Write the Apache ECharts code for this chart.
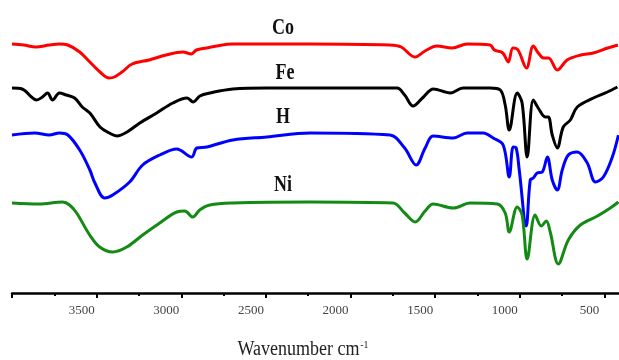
<!DOCTYPE html>
<html>
<head>
<meta charset="utf-8">
<script src="https://cdn.jsdelivr.net/npm/echarts@6/dist/echarts.min.js"></script>
<style>
  html, body { margin: 0; padding: 0; background: #fff; }
  #chart { width: 619px; height: 360px; }
</style>
</head>
<body>
<div id="chart"></div>
<script>
// FTIR spectra, [wavenumber cm-1, transmittance (a.u., offset per sample)]
const co = [
  [4000, 124.5], [3930, 124], [3860, 123], [3780, 124], [3720, 124.5], [3670, 124],
  [3600, 120.5], [3540, 115.5], [3480, 110.5], [3425, 107.5], [3395, 108], [3350, 110.5],
  [3290, 114.5], [3190, 116.5], [3090, 119], [2990, 120.5], [2940, 119.5], [2910, 121.5],
  [2850, 122.5], [2790, 123.5], [2700, 124.5], [2240, 124.5], [1770, 124], [1700, 123],
  [1620, 118], [1560, 121], [1490, 123.5], [1400, 122.5], [1310, 124.5], [1175, 124],
  [1150, 121.5], [1100, 120], [1068, 115.5], [1040, 122.5], [1010, 121.5], [960, 112.5],
  [920, 123.5], [890, 120], [860, 117.5], [830, 117.5], [778, 111.5], [720, 116.5],
  [640, 119], [565, 120], [480, 122.5], [420, 124]
]
const fe = [
  [4000, 102.5], [3940, 102], [3885, 98], [3855, 96.5], [3820, 98], [3790, 100],
  [3760, 96.5], [3720, 100], [3680, 99], [3630, 97.5], [3585, 93], [3540, 90],
  [3480, 83], [3425, 80], [3380, 78.5], [3320, 80.5], [3245, 85], [3145, 90],
  [3050, 95], [2965, 97.5], [2930, 95.5], [2890, 98.5], [2830, 100], [2695, 102],
  [2495, 102.5], [1725, 102.5], [1680, 99], [1630, 93.5], [1575, 97.5], [1510, 102],
  [1410, 100], [1335, 102.5], [1175, 102.5], [1115, 101.5], [1086, 94], [1062, 81.5],
  [1015, 100], [986, 95], [956, 68], [920, 96.5], [891, 92.5], [849, 88], [831, 88],
  [808, 79], [778, 72.5], [743, 83], [701, 86.5], [660, 93], [565, 97.5], [482, 100.5],
  [423, 103]
]
const h = [
  [4000, 79], [3865, 80], [3780, 79], [3720, 80], [3670, 79], [3600, 71.5],
  [3540, 61.5], [3510, 55], [3453, 47.5], [3405, 49], [3305, 55.5], [3228, 64],
  [3127, 69], [3027, 72], [2938, 68], [2908, 72.5], [2849, 73], [2695, 76.5],
  [2494, 78], [2240, 80], [1766, 79], [1680, 72.5], [1612, 64], [1559, 72.5],
  [1512, 78.5], [1393, 77.5], [1311, 80], [1216, 80], [1157, 77.5], [1098, 74],
  [1062, 58], [1039, 73], [1021, 72.5], [1003, 61.5], [962, 33.5], [938, 56.5],
  [920, 57.5], [897, 60], [867, 60.5], [837, 68], [808, 56.5], [778, 51.5],
  [749, 61.5], [713, 69], [660, 70.5], [601, 65], [553, 55.5], [506, 58],
  [453, 68], [417, 79]
]
const ni = [
  [4000, 45], [3840, 44.5], [3700, 45.5], [3660, 44], [3618, 40], [3541, 29],
  [3482, 23], [3405, 20.5], [3322, 23], [3228, 29], [3127, 35], [3027, 40.5],
  [2979, 41], [2932, 38], [2891, 41.5], [2831, 44], [2695, 45], [2240, 45.5],
  [1749, 45], [1680, 40], [1618, 35.5], [1559, 41], [1512, 44.5], [1393, 42.5],
  [1293, 45], [1133, 44.5], [1086, 40], [1062, 30.5], [1015, 43], [986, 39],
  [956, 17], [909, 39], [873, 33.5], [843, 36], [820, 30.5], [772, 14.5],
  [713, 26.5], [642, 34], [541, 38.5], [465, 42.5], [417, 45.5]
]
const names = ['Co', 'Fe', 'H', 'Ni']
const colors = ['#ff0000', '#000000', '#0000ff', '#138a13']
const spectra = [co, fe, h, ni]
// where the sample names sit
const namePos = [[283, 28], [285, 73], [283, 117], [283, 185]]

const chart = echarts.init(document.getElementById('chart'))
chart.setOption({
  animation: false,
  // the plot runs past the right edge: 0 cm-1 sits outside the picture
  grid: { left: 12, width: 677, top: 3, height: 290, containLabel: false, outerBoundsMode: 'none' },
  xAxis: {
    type: 'value',
    min: 0,
    max: 4000,
    interval: 500,
    inverse: true,
    axisLine: { lineStyle: { color: '#000', width: 2.5 } },
    axisTick: { length: 5, lineStyle: { color: '#000', width: 2 } },
    minorTick: { show: true, splitNumber: 2, length: 3, lineStyle: { color: '#000', width: 2 } },
    splitLine: { show: false },
    axisLabel: {
      margin: 11,
      formatter: v => (v === 0 || v === 4000) ? '' : '{a|' + v + '}',
      rich: {
        a: { fontFamily: 'Liberation Serif', fontSize: 13, color: '#444', padding: [0, 30, 0, 0] }
      }
    }
  },
  yAxis: { type: 'value', min: 0, max: 145, show: false },
  series: spectra.map((d, i) => ({
    name: names[i],
    type: 'line',
    data: d,
    smooth: 0.35,
    showSymbol: false,
    lineStyle: { color: colors[i], width: 3 },
    itemStyle: { color: colors[i] }
  })),
  graphic: names.map((n, i) => ({
    type: 'text',
    x: namePos[i][0],
    y: namePos[i][1],
    scaleX: 0.75,
    style: {
      text: n,
      fontFamily: 'Liberation Serif',
      fontWeight: 'bold',
      fontSize: 24,
      fill: '#111',
      align: 'center',
      verticalAlign: 'middle'
    }
  })).concat([{
    type: 'text',
    x: 303,
    y: 350,
    scaleX: 0.9,
    style: {
      text: 'Wavenumber cm{sup|-1}',
      fontFamily: 'Liberation Serif',
      fontSize: 20,
      fill: '#222',
      align: 'center',
      verticalAlign: 'middle',
      rich: {
        sup: { fontFamily: 'Liberation Serif', fontSize: 11, fill: '#222', padding: [0, 0, 10, 1] }
      }
    }
  }])
})
</script>
</body>
</html>
